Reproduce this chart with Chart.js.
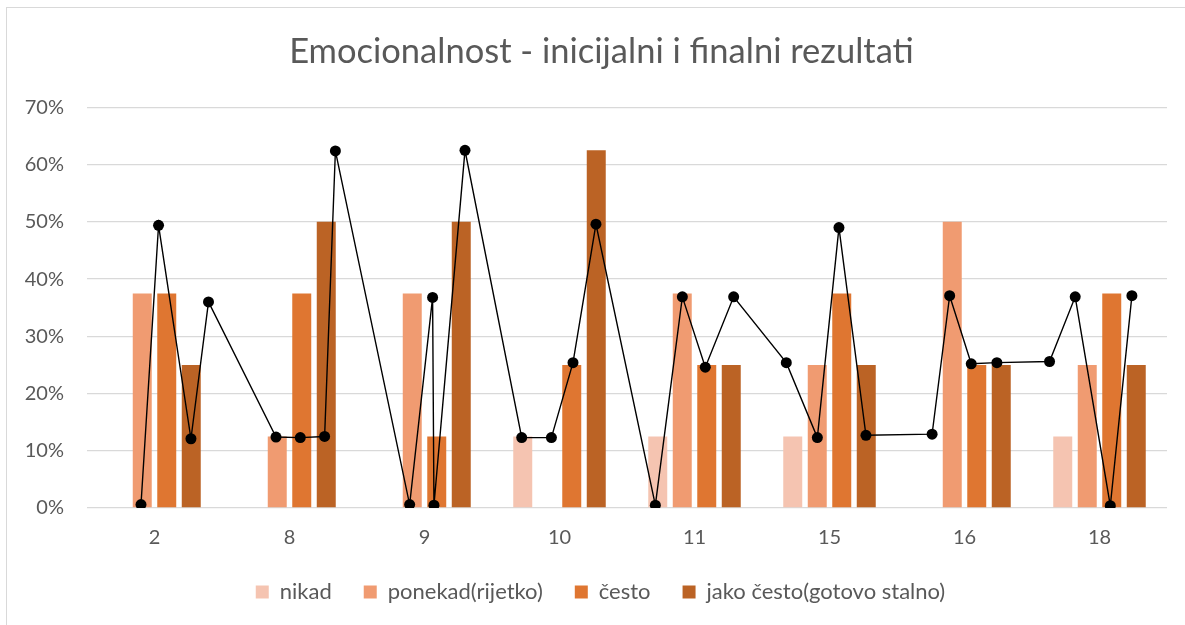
<!DOCTYPE html>
<html>
<head>
<meta charset="utf-8">
<script src="https://cdn.jsdelivr.net/npm/chart.js@4.4.1/dist/chart.umd.min.js"></script>
<style>
  html, body { margin: 0; padding: 0; background: #ffffff; }
  #wrap { position: absolute; left: 0; top: 0; width: 1185px; height: 625px; }
  #frame { position: absolute; left: 6px; top: 7px; width: 1200px; height: 640px; border: 1px solid #d9d9d9; box-sizing: border-box; }
  canvas { position: absolute; left: 0; top: 0; }
</style>
</head>
<body>
<div id="wrap">
  <div id="frame"></div>
  <canvas id="c" width="1185" height="625"></canvas>
</div>
<script>
// ---- data ----
const categories = ["2", "8", "9", "10", "11", "15", "16", "18"];
const seriesNames = ["nikad", "ponekad(rijetko)", "često", "jako često(gotovo stalno)"];
const nikad    = [0, 0, 0, 12.5, 12.5, 12.5, 0, 12.5];
const ponekad  = [37.5, 12.5, 37.5, 0, 37.5, 25, 50, 25];
const cesto    = [37.5, 37.5, 12.5, 25, 25, 37.5, 25, 37.5];
const jakoCesto = [25, 50, 50, 62.5, 25, 25, 25, 25];
// line series: position along the category axis (category index units) and value
const lineX = [-0.10, 0.03, 0.27, 0.40, 0.90, 1.08, 1.26, 1.34,
               1.89, 2.06, 2.07, 2.30, 2.72, 2.94, 3.10, 3.27,
               3.71, 3.91, 4.08, 4.29, 4.68, 4.91, 5.07, 5.27,
               5.76, 5.89, 6.05, 6.24, 6.63, 6.82, 7.08, 7.24];
const lineY = [0.6, 49.4, 12.1, 36.0, 12.4, 12.3, 12.5, 62.4,
               0.6, 36.8, 0.5, 62.5, 12.3, 12.3, 25.4, 49.6,
               0.5, 36.9, 24.6, 36.9, 25.4, 12.3, 49.0, 12.7,
               12.9, 37.1, 25.2, 25.4, 25.6, 36.9, 0.4, 37.1];
const yTicks = [0, 10, 20, 30, 40, 50, 60, 70];
const titleText = "Emocionalnost - inicijalni i finalni rezultati";

// ---- styles ----
const colors = ["#F5C4B1", "#F09B71", "#DF7631", "#BB6325"];
const FONT = "Lato";
const TXT = "#595959";

const barSeries = [nikad, ponekad, cesto, jakoCesto];
const datasets = barSeries.map((arr, i) => ({
  type: "bar",
  label: seriesNames[i],
  data: arr.map((v, k) => ({ x: k, y: v })),
  backgroundColor: colors[i],
  borderWidth: 0,
  categoryPercentage: 0.726,
  barPercentage: 0.775,
  xAxisID: "x",
  yAxisID: "y",
  order: 2
}));
datasets.push({
  type: "line",
  label: "_line",
  data: lineX.map((x, i) => ({ x: x, y: lineY[i] })),
  borderColor: "#000000",
  borderWidth: 1.4,
  backgroundColor: "#000000",
  pointBackgroundColor: "#000000",
  pointBorderColor: "#000000",
  pointRadius: 5.5,
  pointBorderWidth: 0,
  fill: false,
  tension: 0,
  xAxisID: "x",
  yAxisID: "y",
  order: 0
});

// centre title and legend like the original (they sit slightly right of the canvas centre)
const shiftBoxes = {
  id: "shiftBoxes",
  afterLayout(chart) {
    if (chart.titleBlock) { chart.titleBlock.left += 18; chart.titleBlock.right += 18; }
    if (chart.legend) { chart.legend.left += 17; chart.legend.right += 17; }
  }
};

new Chart(document.getElementById("c"), {
  type: "bar",
  data: { datasets: datasets },
  plugins: [shiftBoxes],
  options: {
    responsive: false,
    animation: false,
    devicePixelRatio: 1,
    layout: { padding: { left: 0, right: 18, top: 0, bottom: 12 } },
    plugins: {
      title: {
        display: true,
        text: titleText,
        color: TXT,
        font: { family: FONT, size: 34.5, weight: "normal" },
        padding: { top: 31, bottom: 35 }
      },
      legend: {
        position: "bottom",
        labels: {
          color: TXT,
          font: { family: FONT, size: 22 },
          boxWidth: 13,
          boxHeight: 13,
          padding: 32,
          filter: (item) => item.text !== "_line"
        }
      },
      tooltip: { enabled: false }
    },
    scales: {
      x: {
        type: "linear",
        min: -0.5,
        max: 7.5,
        offset: false,
        afterBuildTicks: (s) => { s.ticks = categories.map((c, k) => ({ value: k })); },
        grid: { display: false, drawTicks: false },
        border: { display: false },
        afterFit: (s) => { s.height -= 19; },
        ticks: {
          color: TXT,
          font: { family: FONT, size: 20 },
          padding: 18,
          callback: (v) => categories[v] !== undefined ? categories[v] : ""
        }
      },
      y: {
        min: 0,
        max: 70,
        afterFit: (s) => { s.width = 87; },
        afterBuildTicks: (s) => { s.ticks = yTicks.map(v => ({ value: v })); },
        grid: { color: "#D9D9D9", lineWidth: 1.3, drawTicks: false },
        border: { display: false },
        ticks: {
          color: TXT,
          font: { family: FONT, size: 20 },
          padding: 23,
          callback: (v) => v + "%"
        }
      }
    }
  }
});
</script>
</body>
</html>
